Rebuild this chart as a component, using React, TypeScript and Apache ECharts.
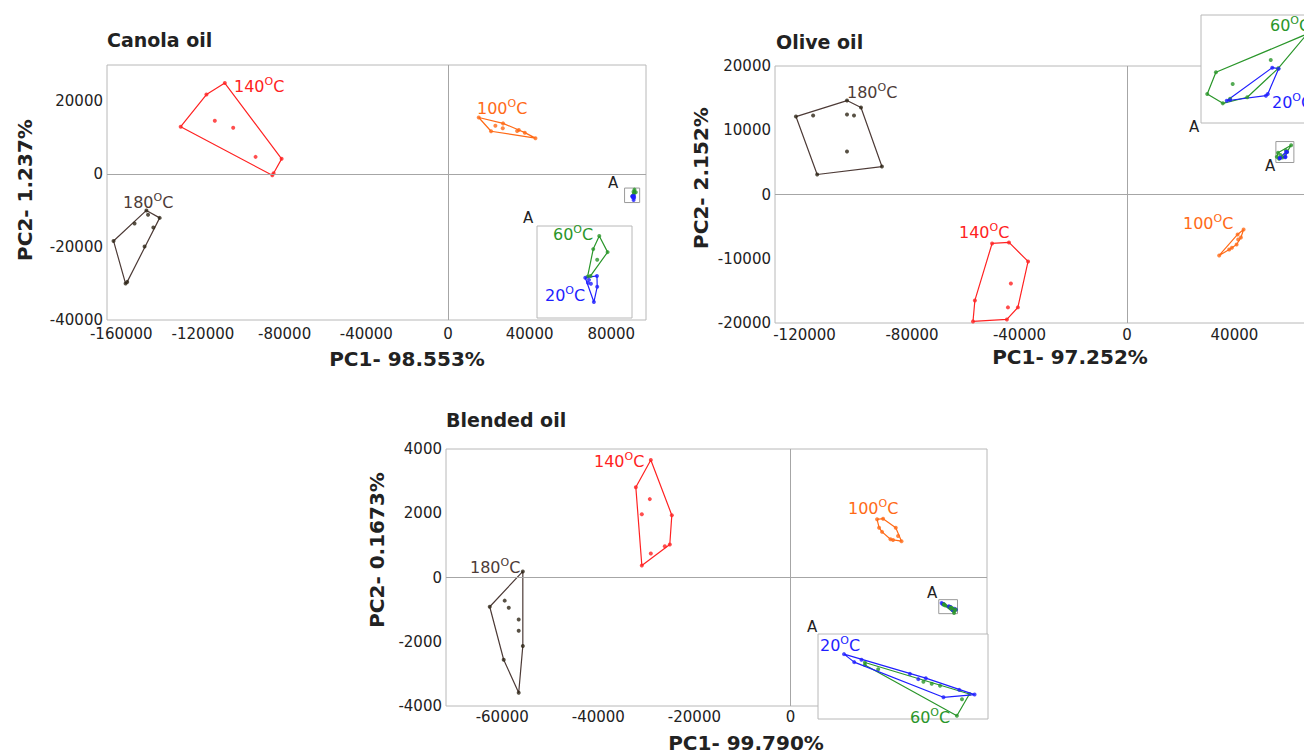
import React, { useEffect, useRef } from "react";
import * as echarts from "echarts";

const FONT = "DejaVu Sans";

// ---------- DATA (PC1, PC2 scores) ----------
// Canola oil
const canola180 = [[-147700, -9920], [-141200, -11970], [-157900, -30000], [-163800, -18300], [-146900, -11080], [-153500, -13510], [-144300, -14590], [-148600, -19810], [-157100, -29540]];
const canola140 = [[-109300, 25050], [-118300, 21890], [-130900, 13050], [-86040, -270], [-81470, 4240], [-114200, 14680], [-105200, 12780], [-94230, 4780], [-85400, 300]];
const canola100 = [[15070, 15590], [27000, 13970], [34700, 12160], [37640, 11430], [42850, 9920], [21100, 11810], [23220, 13320], [26850, 12620], [33870, 11890]];
const canola60 = [[91350, -4210], [92000, -4910], [90880, -4780], [91190, -5240], [90440, -5970], [90670, -5940]];
const canola20 = [[90260, -6020], [91170, -5940], [91190, -6410], [90930, -7070], [90470, -6240], [90700, -6280], [90550, -6110]];
const canolaBoxA = [[86500, -3780], [93900, -7760]];
const canolaXTicks = [-160000, -120000, -80000, -40000, 0, 40000, 80000];
const canolaYTicks = [-40000, -20000, 0, 20000];

// Olive oil
const olive180 = [[-123200, 12130], [-104200, 14620], [-99000, 13530], [-91200, 4350], [-115300, 3110], [-116800, 12290], [-104200, 12440], [-101600, 12290], [-104200, 6690]];
const olive140 = [[-50200, -7620], [-43900, -7460], [-36800, -10420], [-40600, -17570], [-44700, -19440], [-57300, -19750], [-56600, -16490], [-43200, -13840], [-44300, -17570]];
const olive100 = [[34340, -9490], [43420, -5440], [41190, -6220], [42420, -6690], [41410, -7000], [40820, -7780], [39070, -8290], [38070, -8550]];
const olive60 = [[56240, 6510], [55775, 5857], [56610, 5573], [57000, 5713], [57920, 5756], [59580, 6630], [61120, 7666], [57140, 6157], [59180, 6880]];
const olive20 = [[56820, 5652], [57000, 5674], [58920, 5805], [59020, 5857], [59600, 6620], [59260, 6650]];
const oliveBoxA = [[55440, 8240], [62140, 4980]];
const oliveXTicks = [-120000, -80000, -40000, 0, 40000, 80000];
const oliveYTicks = [-20000, -10000, 0, 10000, 20000];

// Blended oil
const blend180 = [[-55710, 190], [-62600, -910], [-59690, -2560], [-56570, -3590], [-55710, -2130], [-59480, -720], [-58640, -940], [-56570, -1310], [-56570, -1660]];
const blend140 = [[-29070, 3660], [-32190, 2810], [-30940, 375], [-25120, 1030], [-24700, 1940], [-29280, 2440], [-30940, 1970], [-29070, 750], [-26160, 970]];
const blend100 = [[18020, 1810], [19270, 1830], [21910, 1550], [22390, 1290], [23100, 1130], [21350, 1170], [20810, 1190], [19060, 1420], [18440, 1550]];
const blend20 = [[31457, -793], [31691, -834], [31858, -822], [32970, -894], [33161, -921], [33333, -916], [34101, -976], [34452, -1000], [33738, -1014]];
const blend60 = [[31936, -836], [31936, -849], [32241, -870], [33278, -934], [33469, -945], [33660, -955], [34335, -997], [34163, -1024], [34046, -1108]];
const blendBoxA = [[30860, -690], [34760, -1125]];
const blendXTicks = [-60000, -40000, -20000, 0];
const blendYTicks = [-4000, -2000, 0, 2000, 4000];

// ---------- STYLE ----------
const C = {
  red: "#ff2222",
  orange: "#ff6a16",
  brown: "#4d3b37",
  brownDot: "#2e2516",
  green: "#2a962a",
  blue: "#1f1fff",
  border: "#b8b8b8",
  zero: "#a6a6a6",
  text: "#222222",
};

function convexHull(points: number[][]): number[][] {
  const p = points.slice().sort((a, b) => (a[0] - b[0]) || (a[1] - b[1]));
  const cross = (o: number[], a: number[], b: number[]) =>
    (a[0] - o[0]) * (b[1] - o[1]) - (a[1] - o[1]) * (b[0] - o[0]);
  const lower: number[][] = [];
  for (const pt of p) {
    while (lower.length >= 2 && cross(lower[lower.length - 2], lower[lower.length - 1], pt) <= 0) lower.pop();
    lower.push(pt);
  }
  const upper: number[][] = [];
  for (let i = p.length - 1; i >= 0; i--) {
    const pt = p[i];
    while (upper.length >= 2 && cross(upper[upper.length - 2], upper[upper.length - 1], pt) <= 0) upper.pop();
    upper.push(pt);
  }
  upper.pop();
  lower.pop();
  const h = lower.concat(upper);
  h.push(h[0]);
  return h;
}

function group(data: number[][], color: string, dotColor: string, axis: number, z: number) {
  return [
    {
      type: "line",
      xAxisIndex: axis,
      yAxisIndex: axis,
      data: convexHull(data),
      symbol: "none",
      showSymbol: false,
      silent: true,
      z,
      lineStyle: { color, width: 1.2 },
    },
    {
      type: "scatter",
      xAxisIndex: axis,
      yAxisIndex: axis,
      data,
      symbolSize: 4,
      silent: true,
      z: z + 1,
      itemStyle: { color: dotColor },
    },
  ];
}

function frame(axis: number, box: number[][]) {
  return {
    type: "scatter",
    xAxisIndex: axis,
    yAxisIndex: axis,
    data: [],
    silent: true,
    z: 1,
    markLine: {
      symbol: ["none", "none"],
      silent: true,
      label: { show: false },
      lineStyle: { color: C.zero, type: "solid", width: 1 },
      data: [{ xAxis: 0 }, { yAxis: 0 }],
    },
    markArea: {
      silent: true,
      itemStyle: { color: "rgba(0,0,0,0)", borderColor: "#9a9a9a", borderWidth: 1 },
      data: [[{ xAxis: box[0][0], yAxis: box[0][1] }, { xAxis: box[1][0], yAxis: box[1][1] }]],
    },
  };
}

const plain = (v: number) => String(Math.round(v));

function mainX(grid: number, min: number, max: number, ticks: number[], margin: number) {
  return {
    type: "value",
    gridIndex: grid,
    min,
    max,
    axisLine: { show: false },
    axisTick: { show: false },
    splitLine: { show: false },
    axisLabel: { customValues: ticks, formatter: plain, fontFamily: FONT, fontSize: 15, color: C.text, margin },
  };
}
function mainY(grid: number, min: number, max: number, ticks: number[]) {
  return {
    type: "value",
    gridIndex: grid,
    min,
    max,
    axisLine: { show: false },
    axisTick: { show: false },
    splitLine: { show: false },
    axisLabel: { customValues: ticks, formatter: plain, fontFamily: FONT, fontSize: 15, color: C.text, margin: 4 },
  };
}
function insetX(grid: number, box: number[][]) {
  return { type: "value", gridIndex: grid, show: false, min: box[0][0], max: box[1][0], splitLine: { show: false } };
}
function insetY(grid: number, box: number[][]) {
  return { type: "value", gridIndex: grid, show: false, min: box[1][1], max: box[0][1], splitLine: { show: false } };
}

function tempLabel(t: string, x: number, y: number, color: string) {
  return {
    type: "text",
    x,
    y,
    z: 30,
    silent: true,
    style: {
      text: `{n|${t}}{s|O}{n|C}`,
      align: "left",
      verticalAlign: "middle",
      textAlign: "left",
      textVerticalAlign: "middle",
      rich: {
        n: { fontSize: 16, fontFamily: FONT, fill: color, color, lineHeight: 20 },
        s: { fontSize: 11, fontFamily: FONT, fill: color, color, verticalAlign: "top", lineHeight: 12 },
      },
    },
  };
}
function plainText(t: string, x: number, y: number, font: string, align = "center", rotation = 0) {
  return {
    type: "text",
    x,
    y,
    z: 30,
    rotation,
    silent: true,
    style: {
      text: t,
      font,
      fill: C.text,
      align,
      verticalAlign: "middle",
      textAlign: align,
      textVerticalAlign: "middle",
    },
  };
}

export default function App() {
  const ref = useRef<HTMLDivElement>(null);
  useEffect(() => {
    if (!ref.current) return;
    const chart = echarts.init(ref.current, undefined, { renderer: "svg" });
    const gridBase = { show: true, borderColor: C.border, borderWidth: 1, containLabel: false, outerBoundsMode: "none" };
    const insetBase = { ...gridBase, backgroundColor: "#ffffff", z: 5 };
    const option = {
      animation: false,
      backgroundColor: "#ffffff",
      grid: [
        { ...gridBase, left: 107, top: 65, width: 539, height: 255 },
        { ...insetBase, left: 537, top: 226, width: 95, height: 92 },
        { ...gridBase, left: 775, top: 66, width: 540, height: 257 },
        { ...insetBase, left: 1201, top: 15, width: 125, height: 108 },
        { ...gridBase, left: 446, top: 449, width: 541, height: 257 },
        { ...insetBase, left: 818, top: 634, width: 170, height: 85 },
      ],
      xAxis: [
        mainX(0, -167000, 97000, canolaXTicks, 6),
        insetX(1, canolaBoxA),
        mainX(2, -131000, 70000, oliveXTicks, 4),
        insetX(3, oliveBoxA),
        mainX(4, -71700, 40900, blendXTicks, 3),
        insetX(5, blendBoxA),
      ],
      yAxis: [
        mainY(0, -40000, 30000, canolaYTicks),
        insetY(1, canolaBoxA),
        mainY(2, -20000, 20000, oliveYTicks),
        insetY(3, oliveBoxA),
        mainY(4, -4000, 4000, blendYTicks),
        insetY(5, blendBoxA),
      ],
      series: [
        frame(0, canolaBoxA),
        ...group(canola180, C.brown, C.brownDot, 0, 2),
        ...group(canola140, C.red, C.red, 0, 2),
        ...group(canola100, C.orange, C.orange, 0, 2),
        ...group(canola60, C.green, C.green, 0, 2),
        ...group(canola20, C.blue, C.blue, 0, 2),
        ...group(canola60, C.green, C.green, 1, 6),
        ...group(canola20, C.blue, C.blue, 1, 6),

        frame(2, oliveBoxA),
        ...group(olive180, C.brown, C.brownDot, 2, 2),
        ...group(olive140, C.red, C.red, 2, 2),
        ...group(olive100, C.orange, C.orange, 2, 2),
        ...group(olive60, C.green, C.green, 2, 2),
        ...group(olive20, C.blue, C.blue, 2, 2),
        ...group(olive60, C.green, C.green, 3, 6),
        ...group(olive20, C.blue, C.blue, 3, 6),

        frame(4, blendBoxA),
        ...group(blend180, C.brown, C.brownDot, 4, 2),
        ...group(blend140, C.red, C.red, 4, 2),
        ...group(blend100, C.orange, C.orange, 4, 2),
        ...group(blend20, C.blue, C.blue, 4, 2),
        ...group(blend60, C.green, C.green, 4, 2),
        ...group(blend60, C.green, C.green, 5, 6),
        ...group(blend20, C.blue, C.blue, 5, 8),
      ],
      graphic: [
        plainText("Canola oil", 107, 40, `bold 19px "${FONT}"`, "left"),
        plainText("Olive oil", 776, 42, `bold 19px "${FONT}"`, "left"),
        plainText("Blended oil", 446, 420, `bold 19px "${FONT}"`, "left"),
        plainText("PC1- 98.553%", 407, 359, `bold 20px "${FONT}"`),
        plainText("PC1- 97.252%", 1070, 357, `bold 20px "${FONT}"`),
        plainText("PC1- 99.790%", 746, 743, `bold 20px "${FONT}"`),
        plainText("PC2- 1.237%", 25, 190, `bold 20px "${FONT}"`, "center", Math.PI / 2),
        plainText("PC2- 2.152%", 701, 178, `bold 20px "${FONT}"`, "center", Math.PI / 2),
        plainText("PC2- 0.1673%", 377, 550, `bold 20px "${FONT}"`, "center", Math.PI / 2),
        plainText("A", 613, 183, `15px "${FONT}"`),
        plainText("A", 528, 218, `15px "${FONT}"`),
        plainText("A", 1194, 127, `15px "${FONT}"`),
        plainText("A", 1270, 166, `15px "${FONT}"`),
        plainText("A", 932, 593, `15px "${FONT}"`),
        plainText("A", 812, 627, `15px "${FONT}"`),
        tempLabel("140", 234, 86, C.red),
        tempLabel("180", 123, 202, C.brown),
        tempLabel("100", 477, 108, C.orange),
        tempLabel("60", 553, 234, C.green),
        tempLabel("20", 545, 295, C.blue),
        tempLabel("180", 847, 92, C.brown),
        tempLabel("140", 959, 232, C.red),
        tempLabel("100", 1183, 223, C.orange),
        tempLabel("60", 1270, 25, C.green),
        tempLabel("20", 1272, 102, C.blue),
        tempLabel("140", 594, 461, C.red),
        tempLabel("180", 470, 567, C.brown),
        tempLabel("100", 848, 508, C.orange),
        tempLabel("20", 820, 645, C.blue),
        tempLabel("60", 910, 717, C.green),
      ],
    };
    chart.setOption(option as any);
    return () => chart.dispose();
  }, []);
  return (
    <div
      ref={ref}
      style={{ position: "fixed", left: 0, top: 0, width: 1304, height: 754, overflow: "hidden", background: "#fff" }}
    />
  );
}
